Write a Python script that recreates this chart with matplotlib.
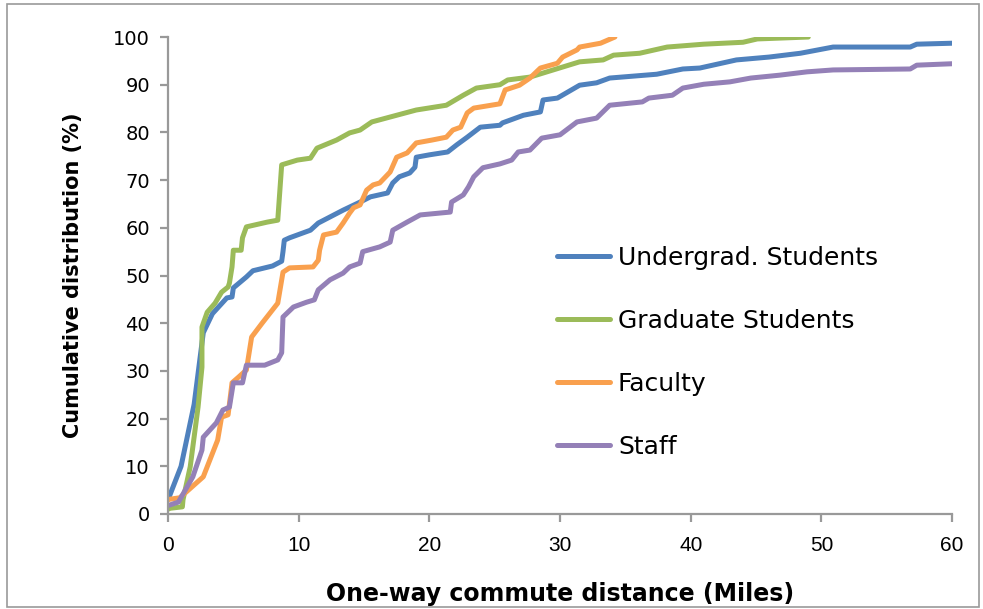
import matplotlib.pyplot as plt
from matplotlib.patches import Rectangle

# one-way commute distance (miles) vs cumulative share (%), per group
undergrad_x = [0, 0.15, 1.0, 2.0, 2.7, 3.4, 4.5, 4.9, 5.0, 6.0, 6.5, 8.0, 8.7, 8.8, 8.9,
               9.3, 10.9, 11.5, 13.4, 14.7, 15.5, 16.8, 17.2, 17.7, 18.5, 18.9, 19.0,
               20.0, 21.4, 22.1, 22.9, 23.9, 25.4, 25.6, 27.2, 28.5, 28.7, 29.8, 31.5,
               32.8, 33.8, 37.4, 39.4, 40.7, 43.5, 46.0, 48.4, 50.9, 56.8, 57.3, 60.0]
undergrad_y = [3.0, 4.0, 10.0, 23.0, 38.0, 42.0, 45.3, 45.5, 47.4, 49.7, 51.0, 52.0, 53.0,
               55.0, 57.4, 57.9, 59.5, 61.0, 63.7, 65.4, 66.5, 67.3, 69.4, 70.7, 71.5,
               72.7, 74.8, 75.3, 75.9, 77.4, 79.0, 81.1, 81.5, 82.0, 83.6, 84.3, 86.8,
               87.2, 89.9, 90.4, 91.4, 92.2, 93.3, 93.5, 95.2, 95.8, 96.6, 97.9, 97.9,
               98.5, 98.7]

grad_x = [0, 0.15, 1.1, 1.15, 1.7, 2.3, 2.6, 2.6, 3.0, 3.6, 4.1, 4.6, 4.7, 4.9, 5.0,
          5.6, 5.7, 6.0, 7.6, 8.4, 8.7, 9.9, 10.9, 11.4, 12.9, 13.9, 14.7, 15.6, 17.5,
          19.0, 21.3, 22.6, 23.6, 25.4, 26.0, 27.7, 29.0, 31.5, 33.3, 34.1, 36.1, 38.2,
          41.0, 44.0, 45.1, 49.0]
grad_y = [1.0, 1.2, 1.5, 3.0, 9.9, 22.4, 30.8, 39.2, 42.3, 44.2, 46.5, 47.6, 48.4, 51.8,
          55.3, 55.3, 57.9, 60.2, 61.2, 61.6, 73.2, 74.2, 74.6, 76.7, 78.4, 79.9, 80.5,
          82.2, 83.6, 84.7, 85.7, 87.8, 89.3, 90.0, 91.0, 91.6, 92.7, 94.8, 95.2, 96.2,
          96.6, 97.9, 98.5, 98.9, 99.6, 100.0]

faculty_x = [0, 0.15, 0.9, 2.7, 3.0, 3.8, 4.1, 4.6, 4.9, 5.4, 6.0, 6.4, 7.2, 8.4, 8.8,
             9.3, 11.1, 11.5, 11.6, 11.9, 12.9, 13.4, 13.9, 14.2, 14.7, 15.2, 15.7,
             16.2, 17.0, 17.5, 18.3, 19.0, 20.2, 21.3, 21.8, 22.4, 22.9, 23.4, 25.4,
             25.8, 26.9, 27.7, 28.5, 29.8, 30.2, 31.3, 31.5, 33.1, 34.2]
faculty_y = [3.0, 3.1, 3.4, 7.8, 9.9, 15.5, 20.3, 20.8, 27.5, 28.7, 30.2, 37.1, 40.0,
             44.2, 50.7, 51.6, 51.8, 53.2, 55.3, 58.5, 59.1, 61.0, 63.1, 64.2, 64.8,
             67.9, 69.0, 69.4, 71.7, 74.8, 75.7, 77.8, 78.4, 79.0, 80.5, 81.1, 84.1,
             85.1, 86.0, 88.9, 89.9, 91.4, 93.5, 94.5, 95.8, 97.3, 97.9, 98.7, 100.0]

staff_x = [0, 0.15, 0.8, 1.9, 2.6, 2.7, 3.7, 4.2, 4.7, 5.0, 5.7, 6.0, 7.4, 8.4, 8.7,
           8.8, 9.6, 10.6, 11.2, 11.5, 12.4, 13.4, 13.9, 14.7, 14.9, 16.2, 17.0, 17.2,
           18.3, 19.3, 21.6, 21.7, 22.6, 23.0, 23.4, 24.1, 25.4, 26.3, 26.8, 27.7,
           28.6, 30.0, 31.3, 32.8, 33.8, 36.3, 36.8, 38.6, 39.4, 41.0, 43.0, 44.6,
           46.8, 48.9, 50.9, 56.8, 57.3, 60.0]
staff_y = [1.8, 1.9, 2.5, 7.8, 13.4, 16.1, 19.1, 21.8, 22.4, 27.5, 27.5, 31.2, 31.2,
           32.3, 33.8, 41.3, 43.4, 44.4, 44.9, 47.0, 49.1, 50.5, 51.8, 52.6, 55.0,
           56.0, 57.0, 59.5, 61.2, 62.7, 63.3, 65.4, 66.9, 68.6, 70.7, 72.6, 73.4,
           74.2, 75.9, 76.3, 78.8, 79.5, 82.2, 83.0, 85.7, 86.4, 87.2, 87.8, 89.3,
           90.1, 90.6, 91.4, 92.0, 92.7, 93.1, 93.3, 94.1, 94.4]

labels = ["Undergrad. Students", "Graduate Students", "Faculty", "Staff"]
colors = ["#4F81BD", "#9BBB59", "#F9A04E", "#9480B7"]
x_ticks = [0, 10, 20, 30, 40, 50, 60]
y_ticks = list(range(0, 101, 10))


def main():
    fig = plt.figure(figsize=(9.83, 6.09), dpi=100)
    ax = fig.add_axes([0.1709, 0.156, 0.7976, 0.7832])

    series = [(undergrad_x, undergrad_y), (grad_x, grad_y),
              (faculty_x, faculty_y), (staff_x, staff_y)]
    for (xs, ys), lab, col in zip(series, labels, colors):
        ax.plot(xs, ys, color=col, lw=3.6, label=lab,
                solid_joinstyle="round", solid_capstyle="round")

    ax.set_xlim(0, 60)
    ax.set_ylim(0, 100)
    ax.set_xticks(x_ticks)
    ax.set_yticks(y_ticks)

    grey = "#999999"
    for side in ("top", "right"):
        ax.spines[side].set_visible(False)
    for side in ("left", "bottom"):
        ax.spines[side].set_color(grey)
        ax.spines[side].set_linewidth(1.6)
    ax.tick_params(axis="both", direction="out", length=6, width=1.6, color=grey)
    ax.tick_params(axis="y", pad=7, labelsize=14, labelfontfamily="DejaVu Sans")
    ax.tick_params(axis="x", pad=10, labelsize=15, labelfontfamily="Liberation Sans")

    ax.set_ylabel("Cumulative distribution (%)", fontsize=15, fontweight="bold",
                  family="DejaVu Sans", labelpad=22)
    ax.set_xlabel("One-way commute distance (Miles)", fontsize=17, fontweight="bold",
                  family="DejaVu Sans", labelpad=19)

    leg = ax.legend(loc="center left", bbox_to_anchor=(0.496, 0.3396), frameon=False,
                    prop={"family": "DejaVu Sans", "size": 18}, handlelength=2.12,
                    handletextpad=0.32, labelspacing=1.56, borderpad=0,
                    borderaxespad=0)
    for h in leg.get_lines():
        h.set_linewidth(3.6)

    # thin grey frame round the whole chart
    fig.add_artist(Rectangle((7 / 983, 2 / 609), 972 / 983, 603 / 609,
                             transform=fig.transFigure, fill=False,
                             edgecolor="#9a9a9a", lw=1.2))

    fig.savefig("out.png", dpi=100)
    plt.close(fig)


if __name__ == "__main__":
    main()
